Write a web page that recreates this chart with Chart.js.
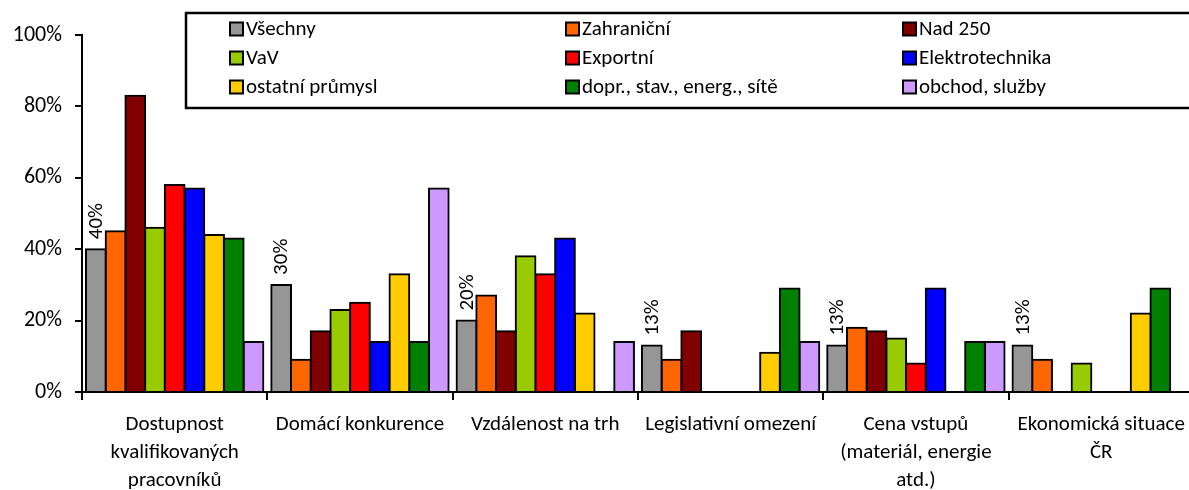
<!DOCTYPE html>
<html><head><meta charset="utf-8">
<script src="https://cdn.jsdelivr.net/npm/chart.js@4/dist/chart.umd.min.js"></script>
<style>
html,body{margin:0;padding:0;overflow:hidden;background:#fff}
#wrap{width:1196px;height:490px;position:relative}
</style>
</head><body>
<div id="wrap"><canvas id="c" width="1196" height="490"></canvas></div>
<script>
const categories = [
  ["Dostupnost","kvalifikovaných","pracovníků"],
  "Domácí konkurence",
  "Vzdálenost na trh",
  "Legislativní omezení",
  ["Cena vstupů","(materiál, energie","atd.)"],
  ["Ekonomická situace","ČR"]
];
const seriesNames = ["Všechny","Zahraniční","Nad 250","VaV","Exportní","Elektrotechnika","ostatní průmysl","dopr., stav., energ., sítě","obchod, služby"];
const seriesColors = ["#969696","#FF6600","#800000","#99CC00","#FF0000","#0000FF","#FFCC00","#008000","#CC99FF"];
const vsechny     = [40, 30, 20, 13, 13, 13];
const zahranicni  = [45,  9, 27,  9, 18,  9];
const nad250      = [83, 17, 17, 17, 17, null];
const vav         = [46, 23, 38, null, 15, 8];
const exportni    = [58, 25, 33, null, 8, null];
const elektro     = [57, 14, 43, null, 29, null];
const ostatni     = [44, 33, 22, 11, null, 22];
const doprava     = [43, 14, null, 29, 14, 29];
const obchod      = [14, 57, 14, 14, 14, null];
const seriesValues = [vsechny, zahranicni, nad250, vav, exportni, elektro, ostatni, doprava, obchod];
const yTicks = [0, 20, 40, 60, 80, 100];

const FONT = "Carlito, Calibri, Lato, sans-serif";
const FS = 21;

const legendPlugin = {
  id: 'boxLegend',
  afterDraw(chart) {
    const ctx = chart.ctx;
    ctx.save();
    ctx.lineWidth = 2.5;
    ctx.strokeStyle = '#000';
    ctx.strokeRect(186, 13, 1100, 95);
    const colX = [230, 566, 903];
    const rowY = [29, 58, 87];
    ctx.font = FS + 'px ' + FONT;
    ctx.textBaseline = 'middle';
    ctx.textAlign = 'left';
    chart.data.datasets.forEach((ds, i) => {
      const x = colX[i % 3], y = rowY[Math.floor(i / 3)];
      ctx.fillStyle = ds.backgroundColor;
      ctx.fillRect(x, y - 6.5, 13, 13);
      ctx.lineWidth = 2;
      ctx.strokeStyle = '#000';
      ctx.strokeRect(x, y - 6.5, 13, 13);
      ctx.fillStyle = '#000';
      ctx.fillText(ds.label, x + 16, y + 1);
    });
    ctx.restore();
  }
};

const labelPlugin = {
  id: 'rotLabels',
  afterDatasetsDraw(chart) {
    const ctx = chart.ctx;
    const meta = chart.getDatasetMeta(0);
    ctx.save();
    ctx.font = FS + 'px ' + FONT;
    ctx.fillStyle = '#000';
    ctx.textAlign = 'left';
    ctx.textBaseline = 'middle';
    meta.data.forEach((bar, i) => {
      const v = chart.data.datasets[0].data[i];
      if (v == null) return;
      ctx.save();
      ctx.translate(bar.x + 1, bar.y - 10);
      ctx.rotate(-Math.PI / 2);
      ctx.fillText(v + '%', 0, 0);
      ctx.restore();
    });
    ctx.restore();
  }
};

new Chart(document.getElementById('c'), {
  type: 'bar',
  data: {
    labels: categories,
    datasets: seriesNames.map((n, i) => ({
      label: n,
      data: seriesValues[i],
      backgroundColor: seriesColors[i],
      borderColor: '#000',
      borderWidth: 2,
      inflateAmount: 1,
      categoryPercentage: 0.957,
      barPercentage: 1
    }))
  },
  options: {
    responsive: false,
    animation: false,
    devicePixelRatio: 1,
    layout: { padding: { top: 35, right: 2, left: 0, bottom: 0 } },
    plugins: { legend: { display: false }, tooltip: { enabled: false } },
    scales: {
      x: {
        grid: { offset: true, drawOnChartArea: false, drawTicks: true, tickLength: 8, color: '#000', lineWidth: 2 },
        border: { display: true, color: '#000', width: 2 },
        ticks: { color: '#000', font: { family: FONT, size: FS, lineHeight: 1.33 }, padding: 11, maxRotation: 0, autoSkip: false },
        afterFit(s) { s.height = 98; }
      },
      y: {
        min: 0, max: 100,
        afterBuildTicks(s) { s.ticks = yTicks.map(v => ({ value: v })); },
        grid: { drawOnChartArea: false, drawTicks: true, tickLength: 7, color: '#000', lineWidth: 2 },
        border: { display: true, color: '#000', width: 2 },
        ticks: { color: '#000', font: { family: FONT, size: 22 }, padding: 13, callback: v => v + '%' },
        afterFit(s) { s.width = 82; }
      }
    }
  },
  plugins: [legendPlugin, labelPlugin]
});
</script>
</body></html>
